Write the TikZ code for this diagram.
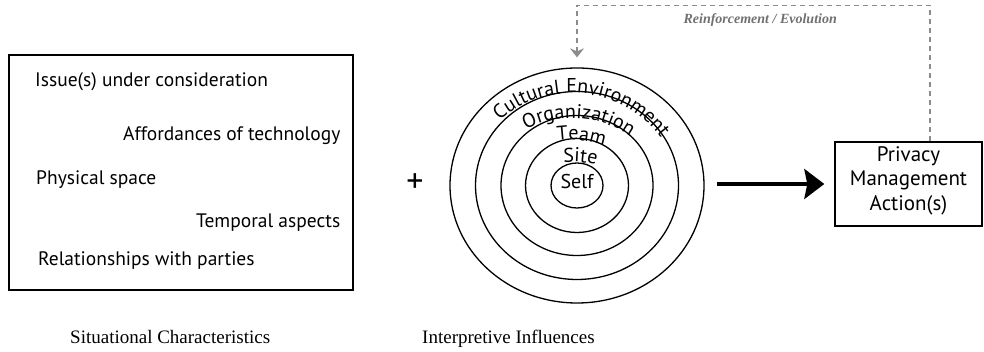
\documentclass[tikz,border=0pt]{standalone}
\usepackage{fontspec}
\setmainfont{Liberation Serif}
\setsansfont{PT Sans}
\usepackage{tikz}
\usetikzlibrary{arrows.meta,positioning,calc,shapes.geometric,decorations.text}
\definecolor{loopgray}{RGB}{140,140,140}
\definecolor{notegray}{RGB}{112,112,112}

\begin{document}
\begin{tikzpicture}[x=1pt,y=1pt,
    box/.style={draw,line width=1.4pt,inner sep=0pt},
    item/.style={anchor=base west,inner sep=0pt,font=\sffamily\fontsize{19.5}{22}\selectfont},
    ring/.style={draw,ellipse,line width=1.3pt,inner sep=0pt},
    ringtext/.style={decorate,decoration={text along path,text align=center,
        text={|\sffamily\fontsize{20}{22}\selectfont|#1}}},
    caption/.style={anchor=base west,inner sep=0pt,font=\fontsize{19}{22}\selectfont},
    arrow/.style={-{Stealth[length=20pt,width=30pt,inset=3pt]},line width=3.5pt},
    feedback/.style={draw=loopgray,dash pattern=on 5pt off 4pt,line width=1.2pt,
        -{Stealth[length=9pt,width=14pt,inset=3pt,fill=loopgray]}}]
  \useasboundingbox (0,0) rectangle (984,352);

  % situational characteristics
  \node[box,minimum width=344,minimum height=235] (situation) at (181,179.5) {};
  \node[item] (issue) at (35,265.5) {Issue(s) under consideration};
  \node[item] (afford) at (123,211) {Affordances of technology};
  \node[item] (space) at (36,167.5) {Physical space};
  \node[item] (temporal) at (196,124.5) {Temporal aspects};
  \node[item] (relation) at (38,86) {Relationships with parties};

  \node[inner sep=0pt,font=\sffamily\fontsize{34}{34}\selectfont] (plus) at (415,169) {+};

  % interpretive influences
  \foreach \nm/\rx/\ry in {culture/127/117.5,org/101.5/94,team/76/70,site/51.5/47,self/26/22.5}
    \node[ring,minimum width=2*\rx,minimum height=2*\ry] (\nm) at (577,166.5) {};
  \path[ringtext={Cultural Environment}] ([shift={(572,149)}]153.7:110) arc[start angle=153.7,end angle=13.7,radius=110];
  \path[ringtext={Organization}] ([shift={(572,134)}]156:100) arc[start angle=156,end angle=16,radius=100];
  \path[ringtext={Team}] ([shift={(572,112)}]154.8:100) arc[start angle=154.8,end angle=14.8,radius=100];
  \path[ringtext={Site}] ([shift={(572,90)}]155.4:100) arc[start angle=155.4,end angle=15.4,radius=100];
  \node[inner sep=0pt,font=\sffamily\fontsize{20}{22}\selectfont] (selftext) at (577,170.5) {Self};

  % privacy management
  \node[box,minimum width=147,minimum height=84] (pma) at (908.5,168) {};
  \node[align=center,inner sep=0pt,font=\sffamily\fontsize{21}{24.5}\selectfont]
    (pmatext) at ($(pma.center)+(0,3.6)$) {Privacy\\Management\\Action(s)};

  \draw[arrow,shorten <=12pt,shorten >=10pt] (pma.west -| culture.east) -- (pma.west);
  \draw[feedback,shorten >=10pt] ($(pma.north)+(21.5,0)$) |- ($(culture.north)+(0,62)$) -- (culture.north);
  \node[anchor=base east,inner sep=0pt,text=notegray,font=\bfseries\itshape\fontsize{14}{16}\selectfont]
    (fbnote) at (837,328.5) {Reinforcement / Evolution};

  \node[caption] (sitcap) at (70,8) {Situational Characteristics};
  \node[caption] (intcap) at (422,8) {Interpretive Influences};
\end{tikzpicture}
\end{document}
